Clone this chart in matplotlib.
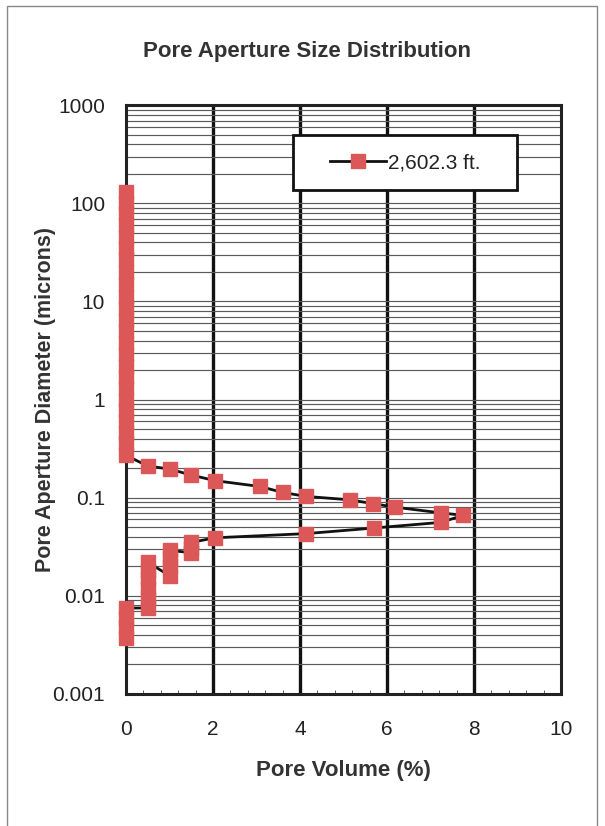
import matplotlib
matplotlib.use("Agg")
import matplotlib.pyplot as plt
from matplotlib.ticker import MultipleLocator, LogLocator, NullFormatter, FixedLocator
from matplotlib.patches import Rectangle

plt.rcParams['font.family'] = ['Liberation Sans', 'DejaVu Sans']

# pore volume (%) vs pore aperture diameter (microns), in injection order
pore_volume = [0, 0, 0, 0, 0, 0, 0, 0, 0, 0, 0, 0, 0, 0, 0, 0, 0, 0, 0, 0, 0, 0, 0, 0,
               0.5, 1.0, 1.5, 2.05, 3.08, 3.6, 4.14, 5.15, 5.67, 6.18,
               7.24, 7.75, 7.24, 5.69, 4.14, 2.05,
               1.5, 1.5, 1.5, 1.0, 1.0, 1.0, 1.0,
               0.5, 0.5, 0.5, 0.5, 0.5, 0.5,
               0, 0, 0, 0]
diameter = [130, 100, 80, 60, 45, 35, 27, 20, 15, 11, 8.5, 6.5, 5, 3.8, 2.9, 2.2, 1.7,
            1.3, 1.0, 0.78, 0.6, 0.46, 0.36, 0.27,
            0.21, 0.196, 0.17, 0.149, 0.13, 0.113, 0.103, 0.095, 0.087, 0.080,
            0.070, 0.066, 0.056, 0.049, 0.043, 0.039,
            0.035, 0.031, 0.0275, 0.029, 0.024, 0.020, 0.016,
            0.022, 0.018, 0.015, 0.012, 0.0095, 0.0075,
            0.0075, 0.006, 0.0048, 0.0037]
series_label = "2,602.3 ft."

x_ticks = [0, 2, 4, 6, 8, 10]
y_ticks = [0.001, 0.01, 0.1, 1, 10, 100, 1000]
y_ticklabels = ["0.001", "0.01", "0.1", "1", "10", "100", "1000"]

fig = plt.figure(figsize=(6.05, 8.26), dpi=100)
ax = fig.add_axes([0.2083, 0.160, 0.7190, 0.7125])

ax.set_yscale('log')
ax.set_xlim(0, 10)
ax.set_ylim(0.001, 1000)

# horizontal grid on every minor decade step
ax.yaxis.set_major_locator(FixedLocator(y_ticks))
ax.yaxis.set_minor_locator(LogLocator(base=10, subs=range(2, 10)))
ax.yaxis.set_minor_formatter(NullFormatter())
ax.set_yticklabels(y_ticklabels)
ax.grid(True, which='both', axis='y', color='#5a5a5a', lw=0.85)
for xv in x_ticks[1:-1]:
    ax.axvline(xv, color='#111111', lw=2.4, zorder=1.5)

ax.set_xticks(x_ticks)
ax.xaxis.set_minor_locator(MultipleLocator(0.4))
ax.tick_params(axis='x', which='major', length=0, pad=19, labelsize=15, colors='#222222')
ax.tick_params(axis='x', which='minor', direction='in', length=3, color='#444444')
ax.tick_params(axis='y', which='both', length=0, pad=15, labelsize=15, colors='#222222')

for s in ax.spines.values():
    s.set_linewidth(2.2)
    s.set_color('#222222')

ax.plot(pore_volume, diameter, color='#111111', lw=2.0, marker='s', markersize=10,
        markerfacecolor='#dc5757', markeredgecolor='#dc5757', label=series_label,
        clip_on=False, zorder=3)

# legend box drawn as its own patch, legend entry centred inside it
ax.add_patch(Rectangle((0.384, 0.856), 0.515, 0.093, transform=ax.transAxes,
                       facecolor='white', edgecolor='#111111', lw=2.0, zorder=4))
leg = ax.legend(loc='center', bbox_to_anchor=(0.642, 0.9025), fontsize=15,
                frameon=False, handlelength=2.7, handletextpad=0.1)
leg.set_zorder(5)
for t in leg.get_texts():
    t.set_color('#222222')

ax.set_xlabel("Pore Volume (%)", fontsize=16, fontweight='bold', color='#333333')
ax.xaxis.set_label_coords(0.5, -0.112)
ax.set_ylabel("Pore Aperture Diameter (microns)", fontsize=15.5, fontweight='bold',
              color='#333333')
ax.yaxis.set_label_coords(-0.162, 0.5)

fig.text(0.507, 0.938, "Pore Aperture Size Distribution", ha='center', va='center',
         fontsize=16, fontweight='bold', color='#333333')

fig.patches.append(Rectangle((0.012, -0.01), 0.974, 1.0025, transform=fig.transFigure,
                             fill=False, edgecolor='#888888', lw=1.0))

fig.savefig("out.png", dpi=100)
